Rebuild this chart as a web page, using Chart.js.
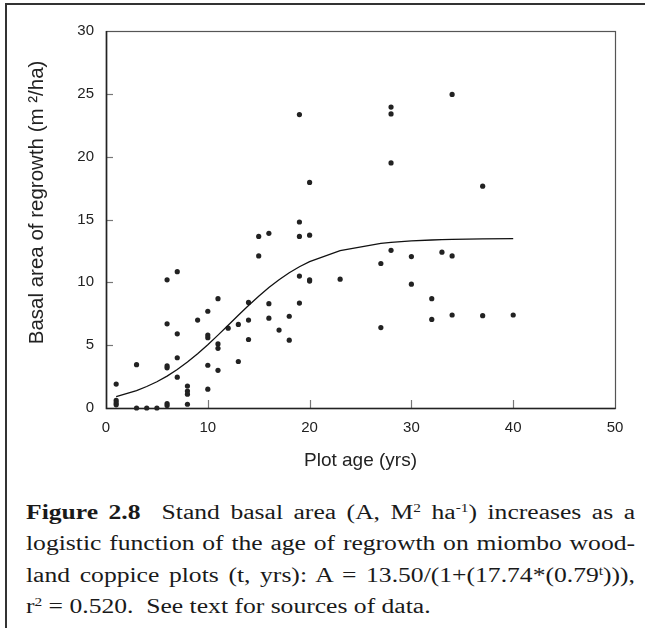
<!DOCTYPE html>
<html>
<head>
<meta charset="utf-8">
<script src="https://cdn.jsdelivr.net/npm/chart.js@4"></script>
<style>
  html, body { margin: 0; padding: 0; background: #fff; }
  body { width: 645px; height: 628px; position: relative; overflow: hidden; }
  #frame { position: absolute; left: 5px; top: 3px; width: 640px; height: 625px;
           border-left: 2px solid #333; border-top: 2px solid #333; box-sizing: border-box; }
  #wrap { position: absolute; left: 0; top: 0; width: 645px; height: 490px; }
  #caption { position: absolute; left: 26px; top: 497px; width: 475.8px;
             transform: scaleX(1.28); transform-origin: 0 0;
             font-family: "Liberation Serif", "Times New Roman", serif; font-size: 20px;
             line-height: 31.3px; color: #1a1a1a; }
  #caption div { white-space: nowrap; }
  #caption .j { text-align: justify; text-align-last: justify; }
  #caption sup { font-size: 0.6em; vertical-align: 0.6em; line-height: 0; }
</style>
</head>
<body>
<div id="frame"></div>
<div id="wrap"><canvas id="c" width="645" height="490"></canvas></div>
<div id="caption">
  <div class="j"><b>Figure 2.8</b>&nbsp; Stand basal area (A, M<sup>2</sup> ha<sup>-1</sup>) increases as a</div>
  <div class="j">logistic function of the age of regrowth on miombo wood-</div>
  <div class="j">land coppice plots (t, yrs): A = 13.50/(1+(17.74*(0.79<sup>t</sup>))),</div>
  <div>r<sup>2</sup> = 0.520.&nbsp; See text for sources of data.</div>
</div>
<script>
// Observed plots: age (yrs) and basal area of regrowth (m2/ha)
const plotAge = [
  1, 1, 1, 1,
  3, 3, 4, 5,
  6, 6, 6, 6, 6, 6,
  7, 7, 7, 7,
  8, 8, 8, 8,
  9,
  10, 10, 10, 10, 10,
  11, 11, 11, 11,
  12,
  13, 13,
  14, 14, 14,
  15, 15,
  16, 16, 16,
  17,
  18, 18,
  19, 19, 19, 19, 19,
  20, 20, 20, 20,
  23,
  27, 27,
  28, 28, 28, 28,
  30, 30,
  32, 32,
  33,
  34, 34, 34,
  37, 37,
  40
];
const basalArea = [
  1.9, 0.6, 0.4, 0.25,
  3.45, 0, 0, 0,
  10.2, 6.7, 3.35, 3.2, 0.35, 0.2,
  10.85, 5.9, 4.0, 2.45,
  1.75, 1.35, 1.1, 0.3,
  7.0,
  7.7, 5.8, 5.6, 3.4, 1.5,
  8.7, 5.1, 4.75, 3.0,
  6.35,
  6.65, 3.7,
  8.4, 7.0, 5.45,
  13.65, 12.1,
  13.9, 8.3, 7.15,
  6.2,
  7.3, 5.4,
  23.35, 14.8, 13.65, 10.5, 8.35,
  17.95, 13.75, 10.2, 10.1,
  10.25,
  11.5, 6.4,
  23.95, 23.4, 19.5, 12.55,
  12.05, 9.85,
  8.7, 7.05,
  12.4,
  24.95, 12.1, 7.4,
  17.65, 7.35,
  7.4
];
// Fitted logistic curve as drawn (vertices read at the plotted ages)
const curveAge = [1, 3, 4, 5, 6, 7, 8, 9, 10, 11, 12, 13, 14, 15, 16, 17, 18, 19, 20, 23, 27, 28, 30, 32, 33, 34, 37, 40];
const curveArea = [0.90, 1.39, 1.71, 2.09, 2.54, 3.06, 3.66, 4.32, 5.04, 5.80, 6.59, 7.38, 8.16, 8.90, 9.59, 10.21, 10.76, 11.24, 11.65, 12.52, 13.10, 13.18, 13.30, 13.37, 13.40, 13.42, 13.46, 13.48];
// Axis labels and ticks
const xTitle = 'Plot age (yrs)';
const yTitle = '      Basal area of regrowth (m \u00B2/ha)';
const xTicks = [0, 10, 20, 30, 40, 50];
const yTicks = [0, 5, 10, 15, 20, 25, 30];

const pointData = plotAge.map((a, i) => ({ x: a, y: basalArea[i] }));
const curveData = curveAge.map((a, i) => ({ x: a, y: curveArea[i] }));

const frameAndTicks = {
  id: 'frameAndTicks',
  afterDraw(chart) {
    const { ctx, chartArea: a, scales } = chart;
    ctx.save();
    // inward tick marks
    ctx.strokeStyle = '#777';
    ctx.lineWidth = 1.2;
    xTicks.forEach(v => {
      if (v === xTicks[0] || v === xTicks[xTicks.length - 1]) return;
      const px = Math.round(scales.x.getPixelForValue(v)) + 0.5;
      ctx.beginPath(); ctx.moveTo(px, a.bottom); ctx.lineTo(px, a.bottom - 8); ctx.stroke();
    });
    yTicks.forEach(v => {
      if (v === yTicks[0] || v === yTicks[yTicks.length - 1]) return;
      const py = Math.round(scales.y.getPixelForValue(v)) + 0.5;
      ctx.beginPath(); ctx.moveTo(a.left, py); ctx.lineTo(a.left + 7, py); ctx.stroke();
    });
    // plot frame
    ctx.strokeStyle = '#555';
    ctx.lineWidth = 1.2;
    ctx.strokeRect(a.left + 0.5, a.top + 0.5, a.right - a.left, a.bottom - a.top);
    ctx.strokeStyle = '#222';
    ctx.lineWidth = 1.6;
    ctx.beginPath();
    ctx.moveTo(a.left + 0.5, a.top); ctx.lineTo(a.left + 0.5, a.bottom + 0.5); ctx.lineTo(a.right + 0.5, a.bottom + 0.5);
    ctx.stroke();
    ctx.restore();
  }
};

new Chart(document.getElementById('c'), {
  type: 'scatter',
  data: {
    datasets: [
      {
        label: 'Observed',
        data: pointData,
        backgroundColor: '#222',
        borderColor: '#222',
        pointRadius: 2.6,
        pointBorderWidth: 0,
        clip: false,
        order: 2
      },
      {
        label: 'Logistic fit',
        type: 'line',
        data: curveData,
        borderColor: '#111',
        borderWidth: 1.3,
        pointRadius: 0,
        fill: false,
        tension: 0,
        order: 1
      }
    ]
  },
  options: {
    responsive: false,
    animation: false,
    events: [],
    layout: { padding: { top: 31, right: 30, left: 0, bottom: 0 } },
    plugins: { legend: { display: false }, tooltip: { enabled: false } },
    scales: {
      x: {
        type: 'linear', min: 0, max: 50,
        afterBuildTicks: s => { s.ticks = xTicks.map(v => ({ value: v })); },
        afterFit: s => { s.height = 82; },
        grid: { display: false, drawTicks: false },
        border: { display: false },
        ticks: { padding: 11, color: '#222', font: { family: 'Liberation Sans, Arial, sans-serif', size: 15 }, maxRotation: 0 },
        title: { display: true, text: xTitle, color: '#222',
                 font: { family: 'Liberation Sans, Arial, sans-serif', size: 19 },
                 padding: { top: 19, bottom: 18 } }
      },
      y: {
        type: 'linear', min: 0, max: 30,
        afterBuildTicks: s => { s.ticks = yTicks.map(v => ({ value: v })); },
        afterFit: s => { s.width = 106; },
        grid: { display: false, drawTicks: false },
        border: { display: false },
        ticks: { padding: 12, color: '#222', font: { family: 'Liberation Sans, Arial, sans-serif', size: 15 } },
        title: { display: true, text: yTitle, color: '#222',
                 font: { family: 'Liberation Sans, Arial, sans-serif', size: 20.5 },
                 padding: { top: 25, bottom: 0 } }
      }
    }
  },
  plugins: [frameAndTicks]
});
</script>
</body>
</html>
